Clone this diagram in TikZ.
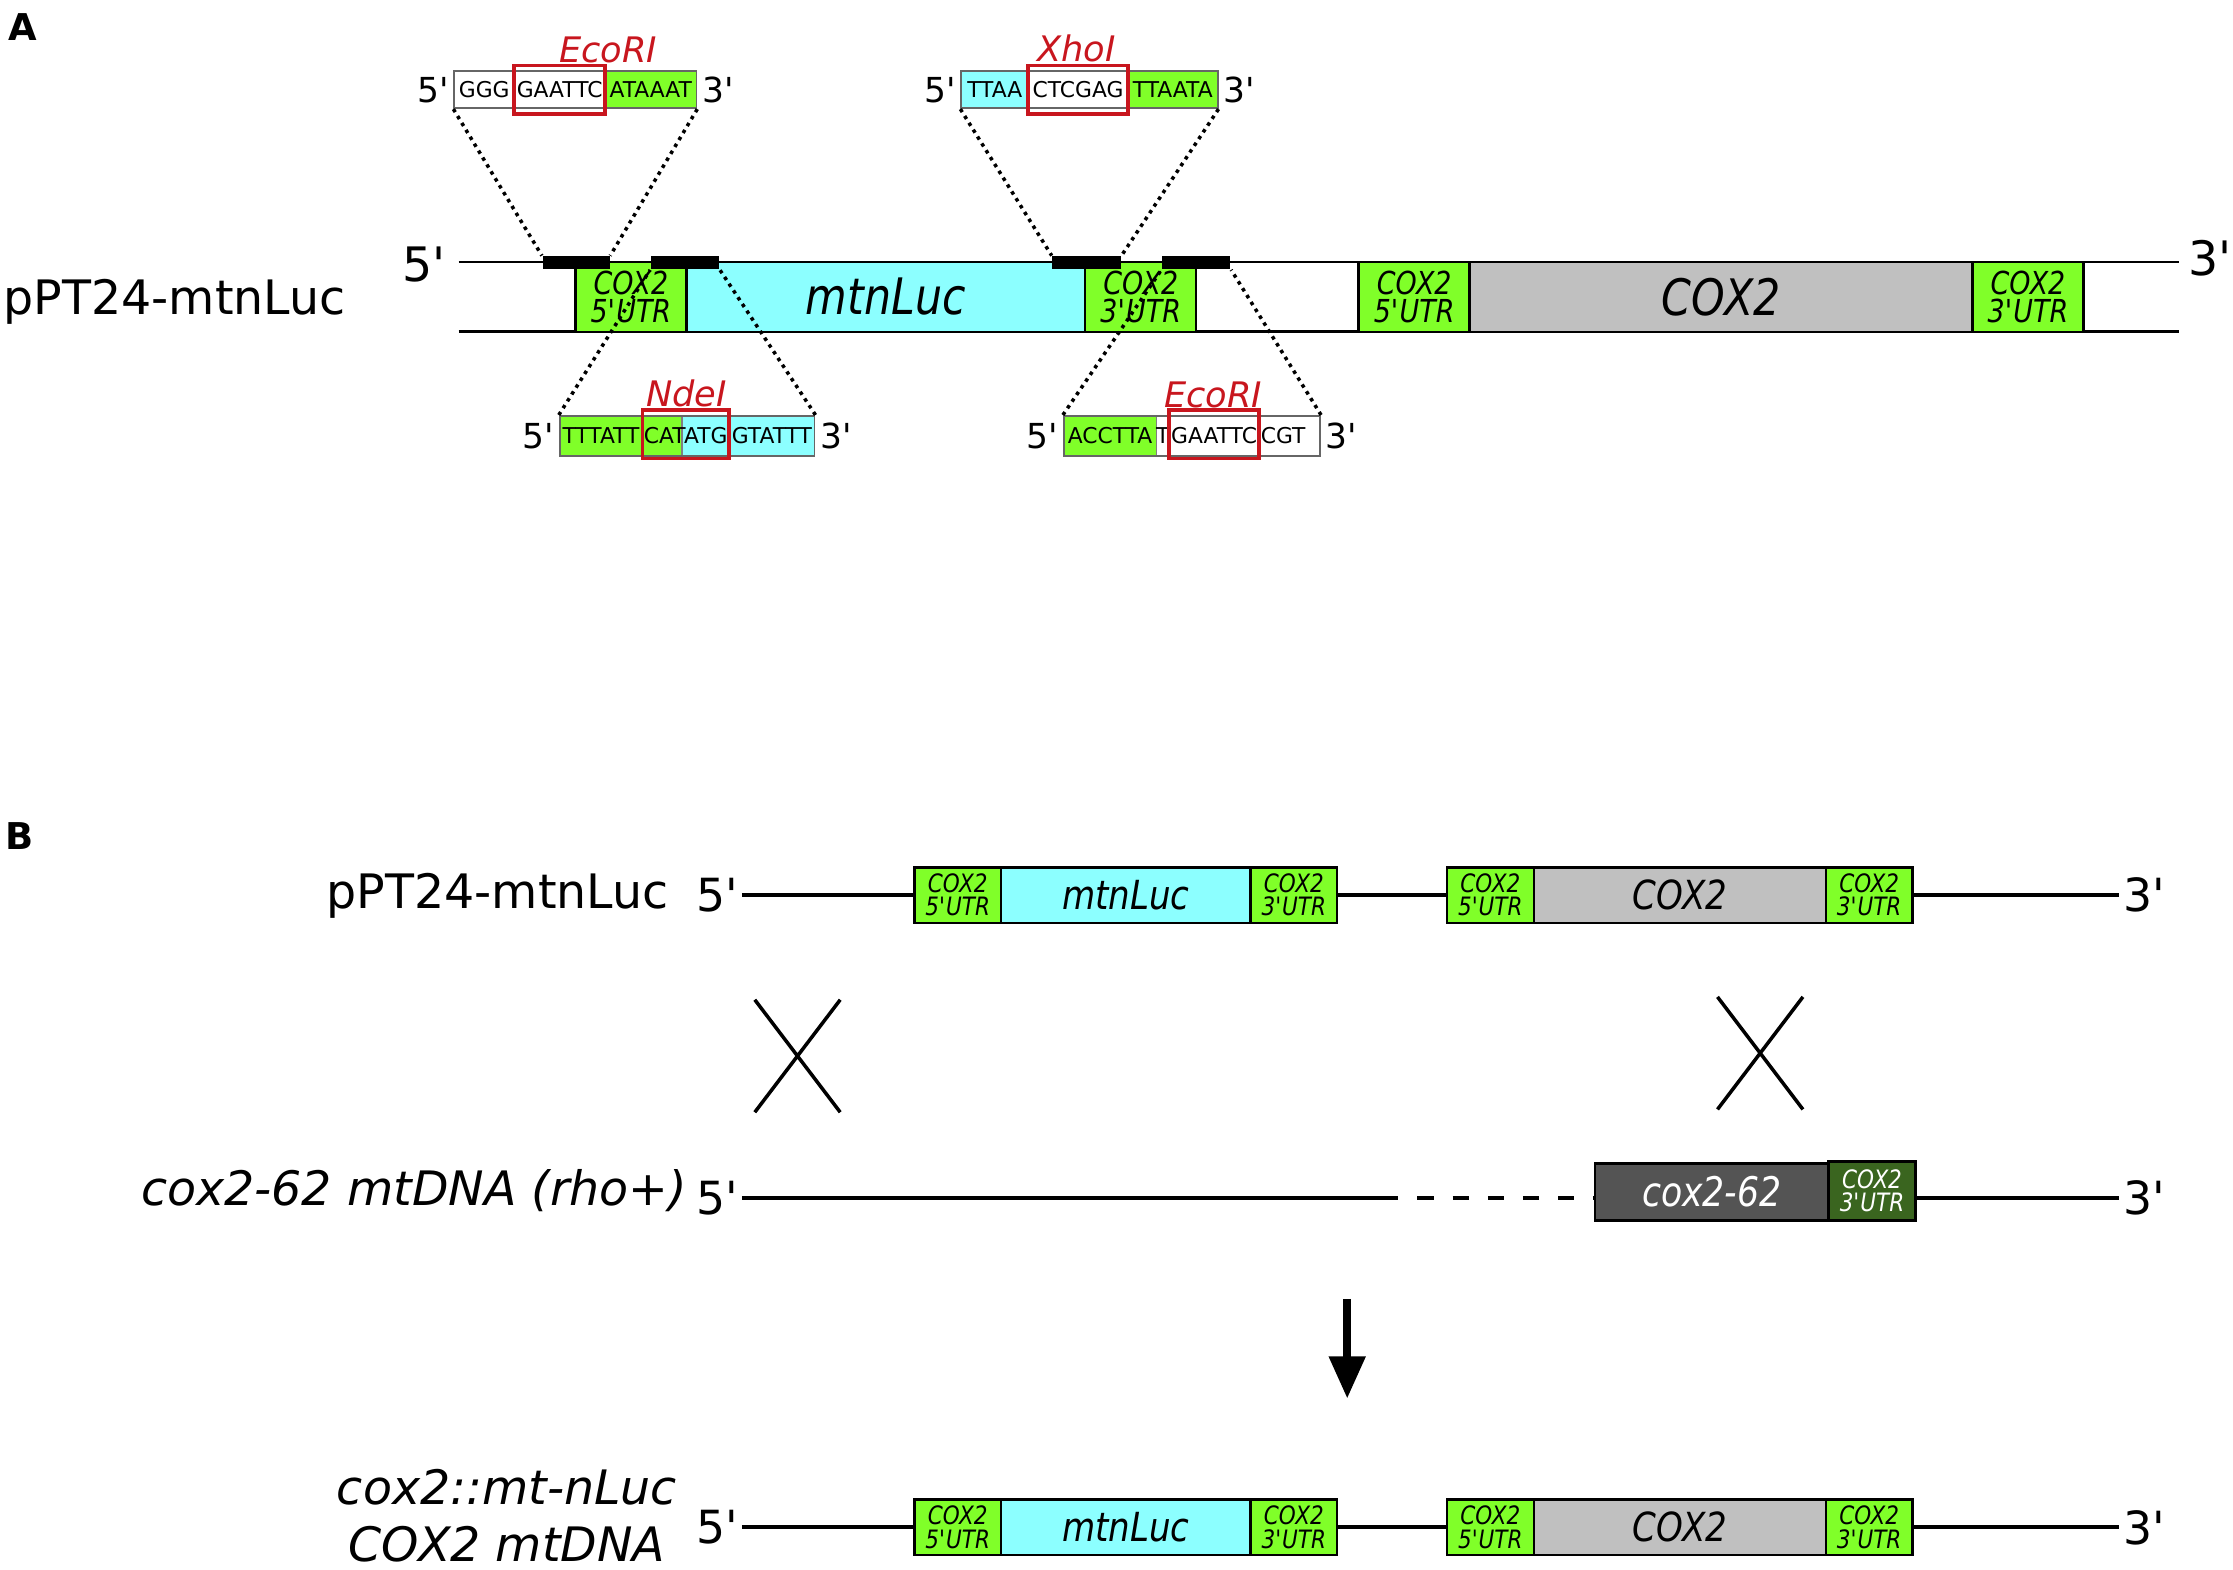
\documentclass[tikz,border=0pt]{standalone}
\usepackage{fontspec}
\setmainfont{DejaVu Sans}
\newfontfamily\narrowfont[FakeStretch=0.85]{DejaVu Sans}
\usetikzlibrary{fit,arrows.meta}
\newcommand\ap{\textquotesingle}

\definecolor{utrgreen}{HTML}{80FF29}
\definecolor{luccyan}{HTML}{8CFFFF}
\definecolor{coxgray}{HTML}{C0C0C0}
\definecolor{mutgray}{HTML}{545454}
\definecolor{mutgreen}{HTML}{3A651F}
\definecolor{sitered}{HTML}{C8161E}

\tikzset{
  strandA/.style={line width=0.8pt},
  strandB/.style={line width=1.2pt},
  gene/.style={draw, line width=0.7pt, inner sep=0pt},
  utrbox/.style={gene, fill=utrgreen},
  utrA/.style={inner sep=0pt, align=center, font=\narrowfont\itshape\fontsize{9}{8.2}\selectfont},
  utrB/.style={inner sep=0pt, align=center, font=\narrowfont\itshape\fontsize{7.2}{6.6}\selectfont},
  orfA/.style={inner sep=0pt, font=\narrowfont\itshape\fontsize{14.3}{16}\selectfont},
  orfB/.style={inner sep=0pt, font=\narrowfont\itshape\fontsize{11.4}{13}\selectfont},
  junction/.style={fill=black, inner sep=0pt},
  seqfill/.style={draw=black!50, line width=0.4pt, inner sep=0pt},
  seqframe/.style={draw=black!60, line width=0.5pt, inner sep=0pt},
  seqtxt/.style={inner sep=0pt, font=\fontsize{6.2}{7}\selectfont},
  site/.style={draw=sitered, line width=1pt, inner sep=0pt},
  sitename/.style={text=sitered, font=\itshape\fontsize{10}{12}\selectfont},
  endS/.style={inner sep=1.2pt, font=\fontsize{9.8}{12}\selectfont},
  endB/.style={inner sep=1pt, font=\fontsize{13}{16}\selectfont},
  rowname/.style={inner sep=0pt, font=\fontsize{13.5}{16}\selectfont},
  zoomline/.style={line width=1pt, dash pattern=on 1pt off 1.3pt},
  crossover/.style={line width=1pt},
  panel/.style={font=\bfseries\fontsize{10.5}{12}\selectfont},
}

\begin{document}
\begin{tikzpicture}[x=0.01424cm, y=-0.01424cm]
\useasboundingbox (0,0) rectangle (1568,1102);

% ---------- A: the construct
\node[panel] (tagA) at (16,19) {A};
\node[rowname, anchor=west] (nameA) at (2,212) {pPT24-mtnLuc};
\node[endB, font=\fontsize{13.5}{16}\selectfont] (a5) at (298,186) {5\ap};
\node[endB, font=\fontsize{13.5}{16}\selectfont] (a3) at (1552,181) {3\ap};
\draw[strandA] (322,184) -- (1530,184);
\draw[strandA] (322,233) -- (1530,233);
\node[utrbox, fit={(404,184)(482,233)}] (a-u5) {};
\node[gene, fill=luccyan, fit={(482,184)(762,233)}] (a-luc) {};
\node[utrbox, fit={(762,184)(840,233)}] (a-u3) {};
\node[utrbox, fit={(954,184)(1032,233)}] (a-u5b) {};
\node[gene, fill=coxgray, fit={(1032,184)(1385,233)}] (a-cox) {};
\node[utrbox, fit={(1385,184)(1463,233)}] (a-u3b) {};
\node[utrA] (a-u5-t) at (a-u5) {COX2\\5\ap UTR};
\node[orfA] (a-luc-t) at (a-luc) {mtnLuc};
\node[utrA] (a-u3-t) at (a-u3) {COX2\\3\ap UTR};
\node[utrA] (a-u5b-t) at (a-u5b) {COX2\\5\ap UTR};
\node[orfA] (a-cox-t) at (a-cox) {COX2};
\node[utrA] (a-u3b-t) at (a-u3b) {COX2\\3\ap UTR};

% junctions
\node[junction, fit={(381,180)(428,189)}] (jA) {};
\node[junction, fit={(457,180)(505,189)}] (jB) {};
\node[junction, fit={(739,180)(787,189)}] (jC) {};
\node[junction, fit={(816,180)(864,189)}] (jD) {};

% EcoRI, upstream
\node[seqfill, fill=white, fit={(319,50)(425,76)}] (s1a) {};
\node[seqfill, fill=utrgreen, fit={(425,50)(489,76)}] (s1b) {};
\node[seqframe, fit={(319,50)(489,76)}] (s1) {};
\node[seqtxt] (s1t1) at (340,63) {GGG};
\node[seqtxt] (s1t2) at (393,63) {GAATTC};
\node[seqtxt] (s1t3) at (457,63) {ATAAAT};
\node[site, fit={(361,46)(425,80)}] (s1site) {};
\node[sitename] (s1name) at (427,35) {EcoRI};
\node[endS, anchor=east] (s1l) at (s1.west) {5\ap};
\node[endS, anchor=west] (s1r) at (s1.east) {3\ap};
\draw[zoomline] (s1.south west) -- (jA.north west) (s1.south east) -- (jA.north east);

% XhoI
\node[seqfill, fill=luccyan, fit={(675,50)(722,76)}] (s2a) {};
\node[seqfill, fill=white, fit={(722,50)(792,76)}] (s2b) {};
\node[seqfill, fill=utrgreen, fit={(792,50)(855,76)}] (s2c) {};
\node[seqframe, fit={(675,50)(855,76)}] (s2) {};
\node[seqtxt] (s2t1) at (698.5,63) {TTAA};
\node[seqtxt] (s2t2) at (757,63) {CTCGAG};
\node[seqtxt] (s2t3) at (823.5,63) {TTAATA};
\node[site, fit={(722,46)(792,80)}] (s2site) {};
\node[sitename] (s2name) at (756,34) {XhoI};
\node[endS, anchor=east] (s2l) at (s2.west) {5\ap};
\node[endS, anchor=west] (s2r) at (s2.east) {3\ap};
\draw[zoomline] (s2.south west) -- (jC.north west) (s2.south east) -- (jC.north east);

% NdeI
\node[seqfill, fill=utrgreen, fit={(393,292)(479,320)}] (s3a) {};
\node[seqfill, fill=luccyan, fit={(479,292)(572,320)}] (s3b) {};
\node[seqframe, fit={(393,292)(572,320)}] (s3) {};
\node[seqtxt] (s3t1) at (422,306) {TTTATT};
\node[seqtxt] (s3t2) at (481.5,306) {CATATG};
\node[seqtxt] (s3t3) at (542,306) {GTATTT};
\node[site, fit={(451,288)(512,322)}] (s3site) {};
\node[sitename] (s3name) at (482,276) {NdeI};
\node[endS, anchor=east] (s3l) at (s3.west) {5\ap};
\node[endS, anchor=west] (s3r) at (s3.east) {3\ap};
\draw[zoomline] (s3.north west) -- (jB.south west) (s3.north east) -- (jB.south east);

% EcoRI, downstream
\node[seqfill, fill=utrgreen, fit={(747,292)(812,320)}] (s4a) {};
\node[seqfill, fill=white, fit={(812,292)(927,320)}] (s4b) {};
\node[seqframe, fit={(747,292)(927,320)}] (s4) {};
\node[seqtxt] (s4t1) at (779.5,306) {ACCTTA};
\node[seqtxt] (s4t2) at (816.5,306) {T};
\node[seqtxt] (s4t3) at (852.5,306) {GAATTC};
\node[seqtxt] (s4t4) at (901,306) {CGT};
\node[site, fit={(821,288)(884,322)}] (s4site) {};
\node[sitename] (s4name) at (852,277) {EcoRI};
\node[endS, anchor=east] (s4l) at (s4.west) {5\ap};
\node[endS, anchor=west] (s4r) at (s4.east) {3\ap};
\draw[zoomline] (s4.north west) -- (jD.south west) (s4.north east) -- (jD.south east);

% ---------- B: the recombination
\node[panel] (tagB) at (14,587) {B};
\node[rowname, anchor=east] (nameB1) at (470,629) {pPT24-mtnLuc};
\node[rowname, anchor=east, font=\itshape\fontsize{13.5}{16}\selectfont] (nameB2) at (483,836) {cox2-62 mtDNA (rho+)};
\node[rowname, align=center, font=\itshape\fontsize{13.5}{16.2}\selectfont] (nameB3) at (356,1064) {cox2::mt-nLuc\\COX2 mtDNA};

\foreach \rw/\ytop/\ybot/\ymid in {one/609/648/628.5, three/1053/1092/1072.5} {
  \node[utrbox, fit={(642,\ytop)(703,\ybot)}] (\rw-u5) {};
  \node[gene, fill=luccyan, fit={(703,\ytop)(878,\ybot)}] (\rw-luc) {};
  \node[utrbox, fit={(878,\ytop)(939,\ybot)}] (\rw-u3) {};
  \node[utrbox, fit={(1016,\ytop)(1077,\ybot)}] (\rw-u5b) {};
  \node[gene, fill=coxgray, fit={(1077,\ytop)(1282,\ybot)}] (\rw-cox) {};
  \node[utrbox, fit={(1282,\ytop)(1343,\ybot)}] (\rw-u3b) {};
  \node[utrB] (\rw-u5-t) at (\rw-u5) {COX2\\5\ap UTR};
  \node[orfB] (\rw-luc-t) at (\rw-luc) {mtnLuc};
  \node[utrB] (\rw-u3-t) at (\rw-u3) {COX2\\3\ap UTR};
  \node[utrB] (\rw-u5b-t) at (\rw-u5b) {COX2\\5\ap UTR};
  \node[orfB] (\rw-cox-t) at (\rw-cox) {COX2};
  \node[utrB] (\rw-u3b-t) at (\rw-u3b) {COX2\\3\ap UTR};
  \node[endB, anchor=east] (\rw-5) at (521,\ymid) {5\ap};
  \node[endB, anchor=west] (\rw-3) at (1488,\ymid) {3\ap};
  \draw[strandB] (\rw-5) -- (\rw-u5) (\rw-u3) -- (\rw-u5b) (\rw-u3b) -- (\rw-3);
}

% rho+ strain
\node[endB, anchor=east] (two-5) at (521,841) {5\ap};
\node[endB, anchor=west] (two-3) at (1488,841) {3\ap};
\node[gene, fill=mutgray, fit={(1120,817)(1284,857)}] (two-mut) {};
\node[gene, fill=mutgreen, fit={(1284,815.5)(1345,857)}] (two-u3) {};
\node[orfB, text=white, font=\narrowfont\itshape\fontsize{11.6}{13}\selectfont] (two-mut-t) at (two-mut) {cox2-62};
\node[utrB, text=white] (two-u3-t) at (two-u3) {COX2\\3\ap UTR};
\coordinate (two-gap) at (982,841);
\draw[strandB] (two-5) -- (two-gap);
\draw[strandB, dash pattern=on 4.6pt off 5.4pt, dash phase=4.6pt] (two-gap) -- (two-mut.west |- two-gap);
\draw[strandB] (two-u3.east |- two-3) -- (two-3);

% crossovers
\draw[crossover] (530,702) -- (590,781) (590,702) -- (530,781);
\draw[crossover] (1206,700) -- (1266,779) (1266,700) -- (1206,779);

\coordinate (arrTop) at (946,912);
\coordinate (arrBot) at (946,982);
\draw[line width=2.2pt, -{Triangle[length=12pt, width=10pt]}] (arrTop) -- (arrBot);
\end{tikzpicture}
\end{document}
